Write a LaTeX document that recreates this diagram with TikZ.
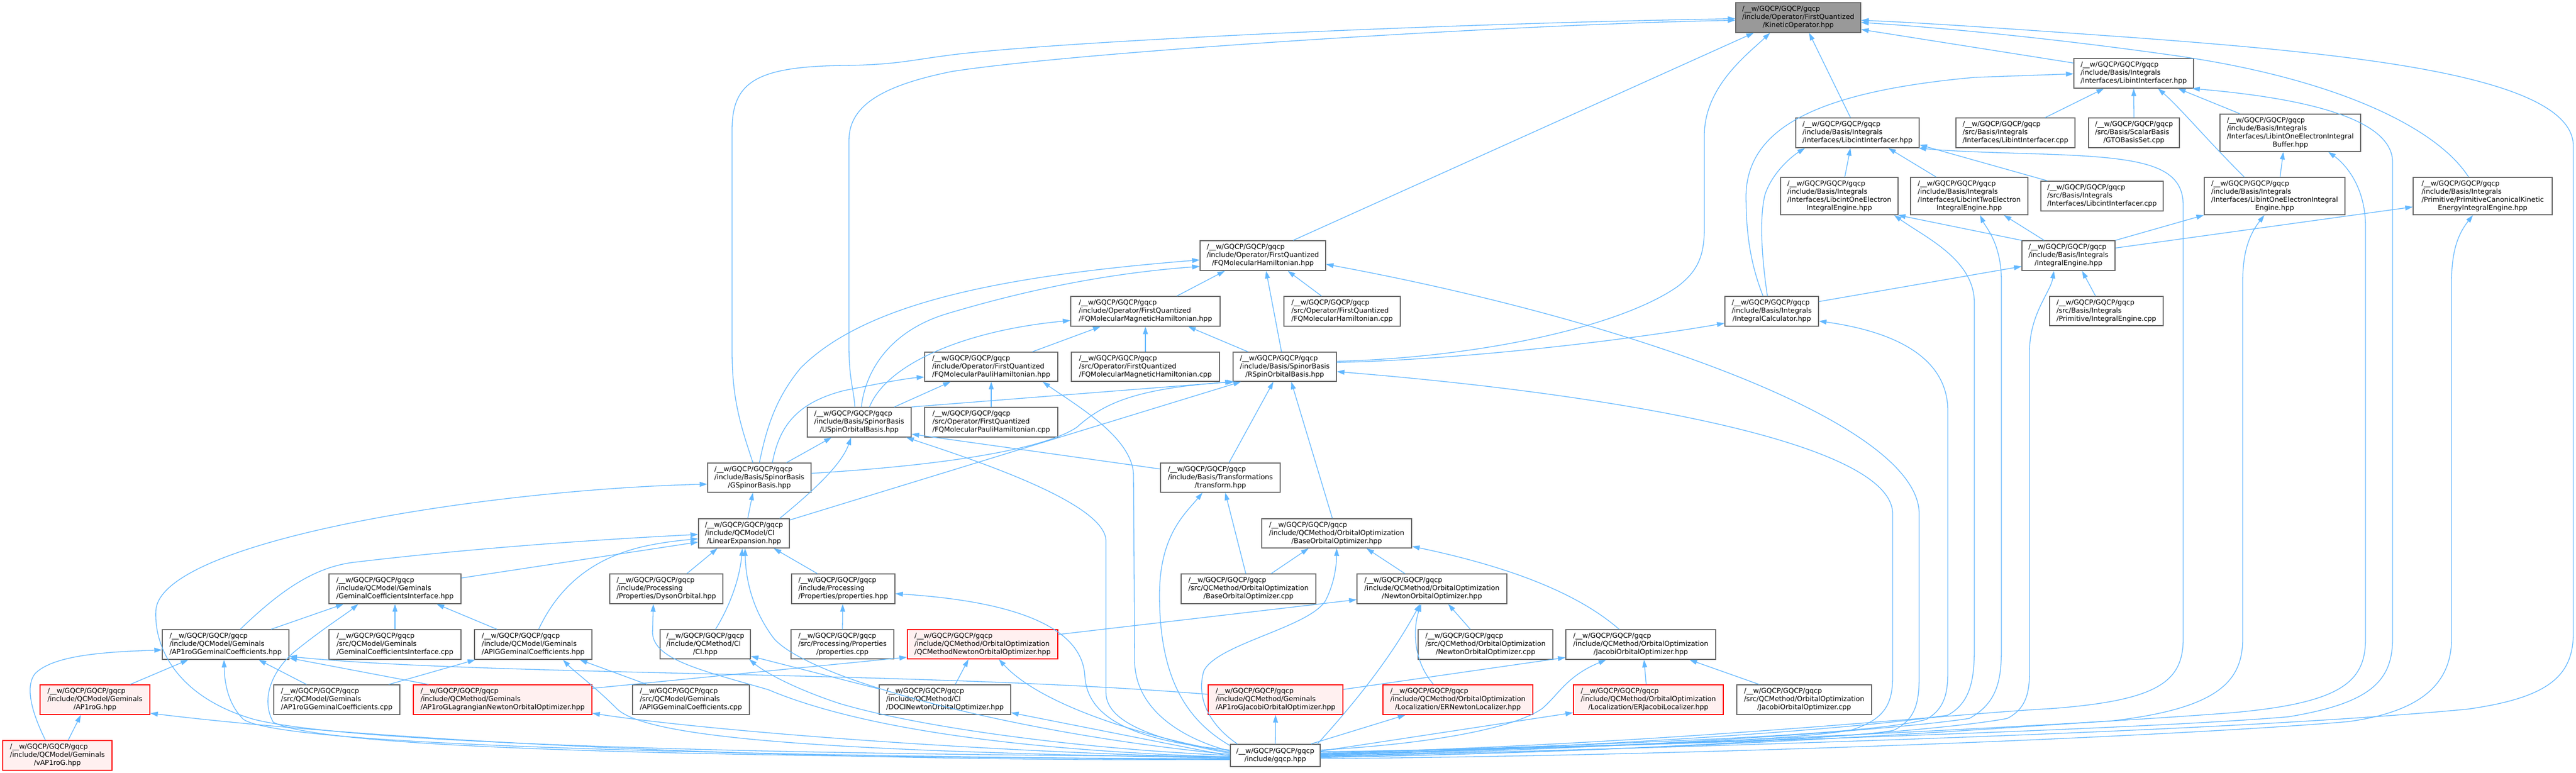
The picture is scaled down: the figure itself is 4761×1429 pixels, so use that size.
\documentclass[tikz,border=0pt]{standalone}
\usepackage{fontspec}
\setmainfont{DejaVu Sans}
\usetikzlibrary{arrows.meta}
\definecolor{edgeblue}{HTML}{63B8FF}
\definecolor{nodegray}{HTML}{666666}
\definecolor{rootfill}{HTML}{999999}
\definecolor{redfill}{HTML}{FFF0F0}
\newcommand\gfont{\fontsize{12.7}{15}\selectfont}
\newcommand\gn[8]{\node[#1, minimum width=#5pt, minimum height=#6pt] (#2) at (#3,#4) {\begin{tabular}{@{}l@{}}/\_\_w/GQCP/GQCP/gqcp\\#7\multicolumn{1}{@{}c@{}}{#8}\end{tabular}};}
\tikzset{
 nbox/.style={draw=nodegray, fill=white, line width=1.4pt, inner sep=0pt, rectangle, font=\gfont, text=black},
 rbox/.style={nbox, draw=red, fill=redfill},
 rootbox/.style={nbox, fill=rootfill},
 dep/.style={draw=edgeblue, line width=1.3pt, -{Triangle[length=14pt,width=9pt]}},
}
\begin{document}
\begin{tikzpicture}[x=1pt,y=-1pt]
\fill[white] (0,0) rectangle (4761,1429);
\useasboundingbox (0,0) rectangle (4761,1429);
% nodes
\gn{rootbox}{R}{3323.5}{32.5}{231}{55}{/include/Operator/FirstQuantized\\}{/KineticOperator.hpp}
\gn{nbox}{LiI}{3943.5}{135.5}{221}{55}{/include/Basis/Integrals\\}{/Interfaces/LibintInterfacer.hpp}
\gn{nbox}{LcI}{3433}{245.5}{228}{55}{/include/Basis/Integrals\\}{/Interfaces/LibcintInterfacer.hpp}
\gn{nbox}{LiIcpp}{3725}{245.5}{220}{55}{/src/Basis/Integrals\\}{/Interfaces/LibintInterfacer.cpp}
\gn{nbox}{GTO}{3944}{245.5}{168}{55}{/src/Basis/ScalarBasis\\}{/GTOBasisSet.cpp}
\gn{nbox}{LiBuf}{4233}{245.5}{260}{69}{/include/Basis/Integrals\\/Interfaces/LibintOneElectronIntegral\\}{Buffer.hpp}
\gn{nbox}{LcOEE}{3399.5}{362.5}{217}{69}{/include/Basis/Integrals\\/Interfaces/LibcintOneElectron\\}{IntegralEngine.hpp}
\gn{nbox}{LcTEE}{3639.5}{362.5}{217}{69}{/include/Basis/Integrals\\/Interfaces/LibcintTwoElectron\\}{IntegralEngine.hpp}
\gn{nbox}{LcIcpp}{3885}{362.5}{226}{55}{/src/Basis/Integrals\\}{/Interfaces/LibcintInterfacer.cpp}
\gn{nbox}{LiOEE}{4204}{362.5}{260}{69}{/include/Basis/Integrals\\/Interfaces/LibintOneElectronIntegral\\}{Engine.hpp}
\gn{nbox}{PCK}{4588.5}{362.5}{257}{69}{/include/Basis/Integrals\\/Primitive/PrimitiveCanonicalKinetic\\}{EnergyIntegralEngine.hpp}
\gn{nbox}{IntEng}{3823}{472.5}{172}{55}{/include/Basis/Integrals\\}{/IntegralEngine.hpp}
\gn{nbox}{PIEcpp}{3893}{575}{210}{54}{/src/Basis/Integrals\\}{/Primitive/IntegralEngine.cpp}
\gn{nbox}{IntCalc}{3274.5}{575.5}{173}{55}{/include/Basis/Integrals\\}{/IntegralCalculator.hpp}
\gn{nbox}{FQMH}{2334}{472.5}{232}{55}{/include/Operator/FirstQuantized\\}{/FQMolecularHamiltonian.hpp}
\gn{nbox}{FQMM}{2117}{575.5}{276}{55}{/include/Operator/FirstQuantized\\}{/FQMolecularMagneticHamiltonian.hpp}
\gn{nbox}{FQMHcpp}{2480.5}{575.5}{215}{55}{/src/Operator/FirstQuantized\\}{/FQMolecularHamiltonian.cpp}
\gn{nbox}{FQMP}{1832}{678}{246}{54}{/include/Operator/FirstQuantized\\}{/FQMolecularPauliHamiltonian.hpp}
\gn{nbox}{FQMMcpp}{2117}{678}{274}{54}{/src/Operator/FirstQuantized\\}{/FQMolecularMagneticHamiltonian.cpp}
\gn{nbox}{RSp}{2374.5}{678}{191}{54}{/include/Basis/SpinorBasis\\}{/RSpinOrbitalBasis.hpp}
\gn{nbox}{USp}{1588}{780.5}{192}{55}{/include/Basis/SpinorBasis\\}{/USpinOrbitalBasis.hpp}
\gn{nbox}{FQMPcpp}{1832}{780.5}{246}{55}{/src/Operator/FirstQuantized\\}{/FQMolecularPauliHamiltonian.cpp}
\gn{nbox}{GSp}{1403.5}{883}{191}{54}{/include/Basis/SpinorBasis\\}{/GSpinorBasis.hpp}
\gn{nbox}{Trf}{2255.5}{883}{221}{54}{/include/Basis/Transformations\\}{/transform.hpp}
\gn{nbox}{LinExp}{1375}{986}{168}{54}{/include/QCModel/CI\\}{/LinearExpansion.hpp}
\gn{nbox}{BaseOO}{2470.5}{986}{277}{54}{/include/QCMethod/OrbitalOptimization\\}{/BaseOrbitalOptimizer.hpp}
\gn{nbox}{GCI}{730}{1088.5}{244}{55}{/include/QCModel/Geminals\\}{/GeminalCoefficientsInterface.hpp}
\gn{nbox}{Dyson}{1231.5}{1088.5}{209}{55}{/include/Processing\\}{/Properties/DysonOrbital.hpp}
\gn{nbox}{Props}{1558.5}{1088.5}{191}{55}{/include/Processing\\}{/Properties/properties.hpp}
\gn{nbox}{BaseOOcpp}{2307.5}{1088.5}{249}{55}{/src/QCMethod/OrbitalOptimization\\}{/BaseOrbitalOptimizer.cpp}
\gn{nbox}{NewtonOO}{2646.5}{1088.5}{277}{55}{/include/QCMethod/OrbitalOptimization\\}{/NewtonOrbitalOptimizer.hpp}
\gn{nbox}{AGC}{417}{1191.5}{234}{55}{/include/QCModel/Geminals\\}{/AP1roGGeminalCoefficients.hpp}
\gn{nbox}{GCIcpp}{730}{1191.5}{244}{55}{/src/QCModel/Geminals\\}{/GeminalCoefficientsInterface.cpp}
\gn{nbox}{IGC}{985.5}{1191.5}{217}{55}{/include/QCModel/Geminals\\}{/APIGGeminalCoefficients.hpp}
\gn{nbox}{CIh}{1303.5}{1191}{167}{54}{/include/QCMethod/CI\\}{/CI.hpp}
\gn{nbox}{Propscpp}{1557}{1191}{190}{54}{/src/Processing/Properties\\}{/properties.cpp}
\gn{rbox}{QCMN}{1816}{1191}{278}{54}{/include/QCMethod/OrbitalOptimization\\}{/QCMethodNewtonOrbitalOptimizer.hpp}
\gn{nbox}{NewtonOOcpp}{2745.5}{1191.5}{249}{55}{/src/QCMethod/OrbitalOptimization\\}{/NewtonOrbitalOptimizer.cpp}
\gn{nbox}{JacobiOO}{3032.5}{1191.5}{277}{55}{/include/QCMethod/OrbitalOptimization\\}{/JacobiOrbitalOptimizer.hpp}
\gn{rbox}{APG}{175.5}{1293.5}{203}{55}{/include/QCModel/Geminals\\}{/AP1roG.hpp}
\gn{nbox}{AGCcpp}{622.5}{1293.5}{233}{55}{/src/QCModel/Geminals\\}{/AP1roGGeminalCoefficients.cpp}
\gn{rbox}{ALN}{929}{1293.5}{330}{55}{/include/QCMethod/Geminals\\}{/AP1roGLagrangianNewtonOrbitalOptimizer.hpp}
\gn{nbox}{IGCcpp}{1277}{1293.5}{216}{55}{/src/QCModel/Geminals\\}{/APIGGeminalCoefficients.cpp}
\gn{nbox}{DOCI}{1746.5}{1293.5}{243}{55}{/include/QCMethod/CI\\}{/DOCINewtonOrbitalOptimizer.hpp}
\gn{rbox}{AJ}{2357.5}{1293.5}{249}{55}{/include/QCMethod/Geminals\\}{/AP1roGJacobiOrbitalOptimizer.hpp}
\gn{rbox}{ERN}{2694.5}{1293.5}{277}{55}{/include/QCMethod/OrbitalOptimization\\}{/Localization/ERNewtonLocalizer.hpp}
\gn{rbox}{ERJ}{3046.5}{1293.5}{277}{55}{/include/QCMethod/OrbitalOptimization\\}{/Localization/ERJacobiLocalizer.hpp}
\gn{nbox}{JacobiOOcpp}{3334.5}{1293.5}{249}{55}{/src/QCMethod/OrbitalOptimization\\}{/JacobiOrbitalOptimizer.cpp}
\gn{rbox}{vAPG}{106}{1396.5}{202}{55}{/include/QCModel/Geminals\\}{/vAP1roG.hpp}
\gn{nbox}{GQ}{2357}{1396.5}{166}{41}{}{/include/gqcp.hpp}
% ---- edges into root
\draw[dep] ([xshift=-12pt]GSp.north) .. controls (1370,790) and (1353,740) .. (1353,650) -- (1353,240) .. controls (1353,150) and (1400,123) .. (1560,121) .. controls (1650,120) and (1680,112) .. (1740,104) .. controls (1900,80) and (2600,45) .. ([yshift=-2pt]R.west);
\draw[dep] ([xshift=-8pt]USp.north) .. controls (1578,720) and (1569,700) .. (1569,640) -- (1569,260) .. controls (1569,200) and (1620,160) .. (1760,132) .. controls (2000,95) and (2800,45) .. ([yshift=-5pt]R.west);
\draw[dep] ([xshift=56pt]FQMH.north) -- ([xshift=-82pt]R.south);
\draw[dep] ([yshift=10pt]RSp.east) .. controls (2750,660) and (3000,600) .. (3100,530) .. controls (3140,500) and (3150,470) .. (3150,420) -- (3150,250) .. controls (3150,160) and (3230,100) .. ([xshift=-52pt]R.south);
\draw[dep] ([xshift=-13pt]LcI.north) -- ([xshift=20pt]R.south);
\draw[dep] ([yshift=19pt]LiI.west) -- ([yshift=-22pt]R.east);
\draw[dep] ([xshift=-26pt]PCK.north) .. controls (4500,230) and (4300,140) .. (4000,100) .. controls (3800,72) and (3600,52) .. ([yshift=-9pt]R.east);
\draw[dep] ([yshift=-2pt]GQ.east) .. controls (3500,1372) and (4200,1345) .. (4560,1311) .. controls (4710,1290) and (4756,1250) .. (4756,1170) -- (4756,270) .. controls (4756,140) and (4350,100) .. (3950,70) .. controls (3700,52) and (3550,42) .. ([yshift=-5pt]R.east);
% ---- LibintInterfacer
\draw[dep] ([xshift=55pt]LiIcpp.north) -- ([xshift=-55pt]LiI.south);
\draw[dep] (GTO.north) -- (LiI.south);
\draw[dep] ([xshift=-56pt]LiOEE.north) .. controls (4080,260) and (4030,200) .. ([xshift=45pt]LiI.south);
\draw[dep] ([xshift=-93pt]LiBuf.north) -- ([xshift=82pt]LiI.south);
\draw[dep] ([yshift=2pt]GQ.east) .. controls (3300,1370) and (4000,1345) .. (4230,1325) .. controls (4380,1300) and (4422,1260) .. (4422,1180) -- (4422,300) .. controls (4422,230) and (4300,185) .. ([xshift=-3pt]LiI.south east);
\draw[dep] ([xshift=-16pt]IntCalc.north) .. controls (3232,480) and (3227,420) .. (3227,360) .. controls (3230,240) and (3350,170) .. (3650,143) -- ([yshift=-1pt]LiI.west);
% ---- LibcintInterfacer
\draw[dep] ([xshift=-8pt]IntCalc.north) .. controls (3255,470) and (3252,400) .. (3262,360) .. controls (3275,320) and (3310,290) .. ([xshift=-97pt]LcI.south);
\draw[dep] ([xshift=10pt]LcOEE.north) -- ([xshift=-13pt]LcI.south);
\draw[dep] ([xshift=-61pt]LcTEE.north) -- ([xshift=57pt]LcI.south);
\draw[dep] ([xshift=13pt]LcIcpp.north west) -- ([yshift=6pt]LcI.south east);
\draw[dep] ([yshift=4pt]GQ.east) .. controls (3100,1375) and (3600,1320) .. (3790,1310) .. controls (3990,1295) and (4035,1260) .. (4035,1180) -- (4035,380) .. controls (4035,300) and (3950,290) .. (3750,284) .. controls (3650,281) and (3600,279) .. ([xshift=-2pt]LcI.south east);
% ---- LibintOneElectronIntegralBuffer
\draw[dep] ([xshift=10pt]LiOEE.north) -- ([xshift=-13pt]LiBuf.south);
\draw[dep] (GQ.east) .. controls (3300,1370) and (3900,1335) .. (4120,1318) .. controls (4330,1300) and (4372,1260) .. (4372,1180) -- (4372,420) .. controls (4372,340) and (4330,300) .. ([xshift=70pt]LiBuf.south);
% ---- LibintOneElectronIntegralEngine
\draw[dep] (IntEng.north east) -- (LiOEE.south west);
\draw[dep] ([yshift=-4pt]GQ.east) .. controls (3200,1385) and (3700,1345) .. (3900,1333) .. controls (4100,1310) and (4145,1260) .. (4145,1180) -- (4145,520) .. controls (4145,460) and (4160,430) .. ([xshift=-19pt]LiOEE.south);
% ---- PrimitiveCanonicalKinetic
\draw[dep] ([yshift=14pt]IntEng.east) -- ([yshift=-20pt]PCK.west);
\draw[dep] ([yshift=-6pt]GQ.east) .. controls (3300,1395) and (4100,1355) .. (4340,1334) .. controls (4480,1315) and (4531,1260) .. (4531,1180) -- (4531,520) .. controls (4531,460) and (4545,430) .. ([xshift=-18pt]PCK.south);
% ---- Libcint one/two electron engines
\draw[dep] (IntEng.north west) -- ([xshift=-1pt]LcOEE.south east);
\draw[dep] ([yshift=1pt]GQ.east) .. controls (3000,1380) and (3450,1345) .. (3600,1322) .. controls (3640,1300) and (3649,1260) .. (3649,1200) -- (3649,560) .. controls (3649,480) and (3560,440) .. ([xshift=-8pt]LcOEE.south east);
\draw[dep] ([xshift=-45pt]IntEng.north) -- ([xshift=64pt]LcTEE.south);
\draw[dep] ([yshift=-1pt]GQ.east) .. controls (3000,1385) and (3500,1350) .. (3640,1328) .. controls (3690,1300) and (3699,1260) .. (3699,1200) -- (3699,520) .. controls (3699,450) and (3670,420) .. ([xshift=20pt]LcTEE.south);
% ---- IntegralEngine
\draw[dep] ([yshift=18pt]IntCalc.east) -- ([yshift=-20pt]IntEng.west);
\draw[dep] ([xshift=-20pt]PIEcpp.north) -- ([xshift=25pt]IntEng.south);
\draw[dep] ([yshift=-3pt]GQ.east) .. controls (3100,1390) and (3600,1350) .. (3710,1328) .. controls (3745,1310) and (3751,1280) .. (3751,1240) -- (3751,650) .. controls (3751,580) and (3790,540) .. ([xshift=-27pt]IntEng.south);
% ---- IntegralCalculator
\draw[dep] ([yshift=8pt]RSp.east) .. controls (2700,665) and (3000,630) .. ([yshift=-22pt]IntCalc.west);
\draw[dep] ([yshift=3pt]GQ.east) .. controls (3000,1375) and (3450,1360) .. (3560,1330) .. controls (3595,1310) and (3600,1280) .. (3600,1240) -- (3600,760) .. controls (3600,650) and (3480,610) .. ([yshift=-18pt]IntCalc.east);
% ---- FQMolecularHamiltonian
\draw[dep] (GSp.north) .. controls (1415,800) and (1430,740) .. (1480,680) .. controls (1600,560) and (1850,510) .. ([yshift=-8pt]FQMH.west);
\draw[dep] ([xshift=4pt]USp.north) .. controls (1600,680) and (1650,610) .. (1750,580) .. controls (1900,535) and (2050,505) .. ([yshift=-20pt]FQMH.west);
\draw[dep] ([xshift=58pt]FQMM.north) -- ([xshift=-70pt]FQMH.south);
\draw[dep] ([xshift=-6pt]RSp.north) -- ([xshift=6pt]FQMH.south);
\draw[dep] ([xshift=-38pt]FQMHcpp.north) -- ([xshift=46pt]FQMH.south);
\draw[dep] ([yshift=6pt]GQ.east) .. controls (2900,1380) and (3400,1370) .. (3500,1350) .. controls (3540,1330) and (3547,1300) .. (3547,1250) -- (3547,950) .. controls (3547,780) and (3000,590) .. ([yshift=-16pt]FQMH.east);
% ---- FQMolecularMagneticHamiltonian
\draw[dep] ([xshift=19pt]USp.north) .. controls (1640,670) and (1790,610) .. ([yshift=-17pt]FQMM.west);
\draw[dep] ([xshift=76pt]FQMP.north) -- ([xshift=-83pt]FQMM.south);
\draw[dep] (FQMMcpp.north) -- (FQMM.south);
\draw[dep] ([xshift=-68pt]RSp.north) -- ([xshift=79pt]FQMM.south);
% ---- FQMolecularPauliHamiltonian
\draw[dep] ([xshift=24pt]GSp.north) .. controls (1440,790) and (1470,745) .. (1560,722) .. controls (1620,710) and (1670,700) .. ([yshift=-19pt]FQMP.west);
\draw[dep] ([xshift=65pt]USp.north) -- ([xshift=-75pt]FQMP.south);
\draw[dep] (FQMPcpp.north) -- (FQMP.south);
\draw[dep] ([yshift=8pt]GQ.west) .. controls (2200,1370) and (2097,1320) .. (2097,1220) -- (2095,880) .. controls (2095,810) and (1990,750) .. ([xshift=95pt]FQMP.south);
% ---- RSpinOrbitalBasis
\draw[dep] (USp.north east) -- (RSp.south west);
\draw[dep] ([yshift=8pt]GSp.east) .. controls (1750,860) and (1930,830) .. (1990,790) .. controls (2040,745) and (2100,718) .. ([xshift=3pt]RSp.south west);
\draw[dep] ([yshift=-3pt]LinExp.north east) -- ([xshift=-81pt]RSp.south);
\draw[dep] ([xshift=16pt]Trf.north) -- ([xshift=-21pt]RSp.south);
\draw[dep] ([xshift=-8pt]BaseOO.north) -- ([xshift=12pt]RSp.south);
\draw[dep] ([yshift=7pt]GQ.east) .. controls (2900,1385) and (3300,1370) .. (3420,1350) .. controls (3485,1330) and (3498,1300) .. (3498,1250) -- (3498,950) .. controls (3498,820) and (3000,730) .. ([yshift=-9pt]RSp.east);
% ---- USpinOrbitalBasis
\draw[dep] ([xshift=50pt]GSp.north) -- ([xshift=-51pt]USp.south);
\draw[dep] ([xshift=66pt]LinExp.north) .. controls (1500,910) and (1555,860) .. ([xshift=-15pt]USp.south);
\draw[dep] ([yshift=4pt]GQ.west) .. controls (2150,1370) and (2044,1340) .. (2044,1280) -- (2044,1000) .. controls (2044,930) and (1800,850) .. ([xshift=87pt]USp.south);
\draw[dep] ([yshift=16pt]Trf.west) -- ([yshift=-22pt]USp.east);
% ---- GSpinorBasis
\draw[dep] ([xshift=7pt]LinExp.north) -- ([xshift=-12pt]GSp.south);
\draw[dep] ([yshift=-2pt]GQ.west) .. controls (1400,1395) and (650,1375) .. (470,1330) .. controls (330,1290) and (285,1200) .. (288,1130) .. controls (292,1000) and (900,905) .. ([yshift=-12pt]GSp.west);
% ---- transform
\draw[dep] ([xshift=-5pt]BaseOOcpp.north) -- ([xshift=9pt]Trf.south);
\draw[dep] ([yshift=-3pt]GQ.north west) .. controls (2190,1330) and (2143,1250) .. (2143,1100) .. controls (2143,990) and (2190,950) .. ([xshift=-33pt]Trf.south);
% ---- LinearExpansion
\draw[dep] ([yshift=20pt]GCI.east) -- ([yshift=-16pt]LinExp.west);
\draw[dep] ([xshift=27pt]AGC.north) .. controls (520,1090) and (580,1050) .. (650,1040) .. controls (900,1010) and (1150,995) .. ([yshift=-2pt]LinExp.west);
\draw[dep] ([xshift=10pt]IGC.north) .. controls (1030,1090) and (1090,1030) .. (1200,1008) .. controls (1240,1000) and (1270,998) .. ([yshift=-10pt]LinExp.west);
\draw[dep] ([xshift=38pt]Dyson.north) -- ([xshift=-49pt]LinExp.south);
\draw[dep] ([xshift=19pt]CIh.north) .. controls (1355,1110) and (1368,1060) .. ([xshift=-3pt]LinExp.south);
\draw[dep] ([yshift=2pt]GQ.west) .. controls (1900,1360) and (1500,1260) .. (1430,1180) .. controls (1385,1120) and (1378,1060) .. ([xshift=2pt]LinExp.south);
\draw[dep] ([xshift=-48pt]Props.north) -- ([xshift=55pt]LinExp.south);
% ---- BaseOrbitalOptimizer
\draw[dep] ([xshift=42pt]BaseOOcpp.north) -- ([xshift=-52pt]BaseOO.south);
\draw[dep] ([xshift=-70pt]GQ.north) .. controls (2235,1340) and (2210,1290) .. (2225,1240) .. controls (2250,1190) and (2420,1160) .. (2450,1110) .. controls (2465,1080) and (2470,1050) .. (BaseOO.south);
\draw[dep] ([xshift=-50pt]NewtonOO.north) -- ([xshift=55pt]BaseOO.south);
\draw[dep] ([xshift=-40pt]JacobiOO.north) .. controls (2920,1100) and (2800,1050) .. ([yshift=-24pt]BaseOO.east);
% ---- NewtonOrbitalOptimizer
\draw[dep] ([yshift=18pt]QCMN.east) -- ([yshift=-20pt]NewtonOO.west);
\draw[dep] ([xshift=-6pt]GQ.north east) .. controls (2540,1260) and (2590,1180) .. ([xshift=-22pt]NewtonOO.south);
\draw[dep] ([xshift=-45pt]ERN.north) .. controls (2610,1220) and (2612,1160) .. ([xshift=-20pt]NewtonOO.south);
\draw[dep] ([xshift=-28pt]NewtonOOcpp.north) -- ([xshift=30pt]NewtonOO.south);
% ---- JacobiOrbitalOptimizer
\draw[dep] ([yshift=19pt]AJ.east) -- ([yshift=-24pt]JacobiOO.west);
\draw[dep] ([yshift=10pt]GQ.east) .. controls (2650,1375) and (2800,1345) .. (2850,1310) .. controls (2880,1285) and (2895,1250) .. ([xshift=-64pt]JacobiOO.south);
\draw[dep] ([xshift=-4pt]ERJ.north) -- ([xshift=6pt]JacobiOO.south);
\draw[dep] ([xshift=-83pt]JacobiOOcpp.north) -- ([xshift=90pt]JacobiOO.south);
% ---- localizers, AP1roG Jacobi
\draw[dep] ([xshift=66pt]GQ.north) -- ([xshift=-97pt]ERN.south);
\draw[dep] ([yshift=8pt]GQ.east) -- ([yshift=-24pt]ERJ.west);
\draw[dep] (GQ.north) -- (AJ.south);
% ---- QCMethodNewtonOrbitalOptimizer
\draw[dep] ([yshift=21pt]ALN.east) -- ([yshift=-24pt]QCMN.west);
\draw[dep] ([xshift=19pt]DOCI.north) -- ([xshift=-26pt]QCMN.south);
\draw[dep] ([yshift=6pt]GQ.west) .. controls (2100,1360) and (1920,1300) .. ([xshift=30pt]QCMN.south);
% ---- DOCI, CI
\draw[dep] ([yshift=-1pt]GQ.west) -- ([yshift=-24pt]DOCI.east);
\draw[dep] ([yshift=20pt]DOCI.west) -- ([yshift=-22pt]CIh.east);
\draw[dep] (GQ.west) .. controls (2000,1385) and (1700,1345) .. (1550,1300) .. controls (1460,1270) and (1410,1240) .. ([xshift=-3pt]CIh.south east);
% ---- properties
\draw[dep] (Propscpp.north) -- ([xshift=-1pt]Props.south);
\draw[dep] ([yshift=10pt]GQ.west) .. controls (2100,1370) and (2010,1330) .. (2005,1250) .. controls (2000,1150) and (1850,1110) .. ([yshift=-9pt]Props.east);
% ---- DysonOrbital
\draw[dep] ([yshift=-3pt]GQ.west) .. controls (1800,1385) and (1550,1330) .. (1420,1275) .. controls (1300,1240) and (1208,1220) .. (1206,1170) -- ([xshift=-24pt]Dyson.south);
% ---- GeminalCoefficientsInterface
\draw[dep] ([xshift=84pt]AGC.north) -- ([xshift=-95pt]GCI.south);
\draw[dep] (GCIcpp.north) -- (GCI.south);
\draw[dep] ([xshift=-67pt]IGC.north) -- ([xshift=77pt]GCI.south);
\draw[dep] ([yshift=-6pt]GQ.west) .. controls (1300,1400) and (600,1385) .. (505,1335) .. controls (480,1290) and (505,1235) .. (550,1200) .. controls (600,1160) and (640,1135) .. ([xshift=-68pt]GCI.south);
% ---- AP1roGGeminalCoefficients
\draw[dep] ([xshift=-22pt]vAPG.north) .. controls (60,1320) and (45,1270) .. (65,1245) .. controls (100,1210) and (200,1205) .. ([yshift=-10pt]AGC.west);
\draw[dep] ([xshift=65pt]APG.north) -- ([xshift=-69pt]AGC.south);
\draw[dep] ([yshift=-8pt]GQ.west) .. controls (1200,1395) and (520,1375) .. (450,1330) .. controls (420,1300) and (415,1260) .. ([xshift=-3pt]AGC.south);
\draw[dep] ([xshift=-56pt]AGCcpp.north) -- ([xshift=61pt]AGC.south);
\draw[dep] ([yshift=10pt]AJ.west) .. controls (1700,1240) and (900,1250) .. ([yshift=-22pt]AGC.east);
\draw[dep] ([xshift=-137pt]ALN.north) -- ([yshift=-25pt]AGC.east);
% ---- APIGGeminalCoefficients
\draw[dep] ([xshift=96pt]AGCcpp.north) -- ([xshift=2pt]IGC.south west);
\draw[dep] ([yshift=-5pt]GQ.west) .. controls (1600,1390) and (1200,1370) .. (1140,1310) .. controls (1100,1270) and (1060,1240) .. ([xshift=55pt]IGC.south);
\draw[dep] ([xshift=-81pt]IGCcpp.north) -- ([xshift=86pt]IGC.south);
% ---- AP1roG
\draw[dep] ([xshift=20pt]vAPG.north) -- ([xshift=-26pt]APG.south);
\draw[dep] ([yshift=-7pt]GQ.west) .. controls (1500,1410) and (700,1370) .. ([yshift=-25pt]APG.east);
% ---- AP1roGLagrangianNewton
\draw[dep] ([yshift=-4pt]GQ.west) .. controls (1800,1390) and (1300,1350) .. ([yshift=-25pt]ALN.east);
\end{tikzpicture}
\end{document}
